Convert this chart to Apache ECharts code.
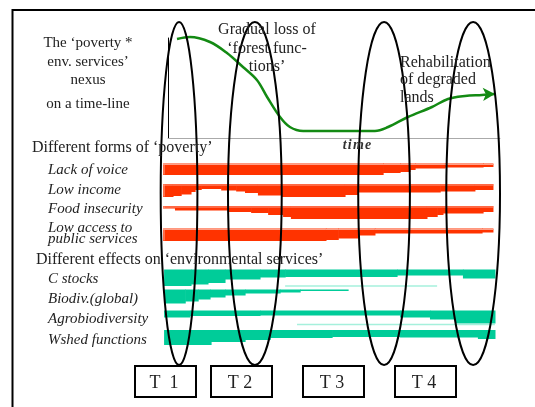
<!DOCTYPE html>
<html><head><meta charset="utf-8">
<script src="https://cdn.jsdelivr.net/npm/echarts@6/dist/echarts.min.js"></script>
<style>html,body{margin:0;padding:0;background:#fff}#c{width:535px;height:407px}</style>
</head><body><div id="c"></div>
<script>
// ================= DATA =================
// time-line curve ("forest functions" level over time, time 0..100)
const curveTimes  = [5.0, 8.8, 14.7, 19.7, 24.4, 28.5, 31.5, 35.3, 38.2, 42.1, 63.2, 67.1, 72.9, 80.0, 84.7, 89.7, 94.7, 98.5];
const curveValues = [99, 101, 96, 85, 71, 58, 41, 21, 11, 7, 7, 11, 21, 31, 39, 42, 43, 44];

// poverty bands: breakpoints (time) and thickness per segment
const voiceTimes  = [0.9, 65.6, 70.6, 73.5, 75.0, 83.8, 95.0, 97.9];
const voiceThick  = [11.5, 9.5, 8.5, 6.5, 5, 4, 3.5];
const incomeTimes = [0.9, 3.8, 6.2, 9.1, 10.3, 12.1, 18.0, 22.4, 25.0, 28.8, 35.6, 54.4, 58.2, 82.4, 92.6, 97.9];
const incomeThick = [13, 12, 10.5, 8, 6, 5, 6.5, 7.5, 9, 11.5, 13, 11, 8.5, 7.5, 6];
const foodTimes   = [0.9, 4.4, 20.0, 26.8, 31.8, 36.2, 38.5, 78.5, 81.5, 83.2, 95.0, 97.9];
const foodThick   = [2.5, 4.5, 6, 7, 9, 11, 13, 11, 9, 7.5, 6];
const accessTimes = [0.9, 48.8, 52.4, 58.2, 63.2, 94.7, 97.9];
const accessThick = [12.5, 11.5, 10, 7, 5, 4];

// environmental service bands
const cstockTimes = [1.2, 9.1, 14.1, 19.1, 29.4, 36.8, 69.7, 89.1, 98.5];
const cstockThick = [16.5, 15, 13.5, 10, 8, 7.5, 6, 9];
const cstockTrace = [36.8, 81.5];
const biodivTimes = [1.2, 7.4, 11.2, 14.7, 19.1, 25.0, 35.3, 41.2, 55.3];
const biodivThick = [14, 12, 10, 8, 6, 4, 3, 1.5];
const agroTimes   = [1.2, 8.8, 29.4, 70.6, 79.4, 86.8, 98.5];
const agroThick   = [7, 5.5, 5, 7, 9, 13];
const agroTrace   = [40.3, 98.5];
const wshedTimes  = [1.2, 15.0, 25.0, 32.4, 50.6, 70.6, 93.5, 98.5];
const wshedThick  = [15, 12, 10, 8, 7, 7.5, 9];

// time windows T1..T4
const periodStart = [0.2, 20.0, 58.3, 84.2];
const periodEnd   = [11.0, 35.8, 73.5, 100.0];

// texts
const introLines = ['The \u2018poverty *', 'env. services\u2019', 'nexus', 'on a time-line'];
const lossLines  = ['Gradual loss of', '\u2018forest func-', 'tions\u2019'];
const rehabLines = ['Rehabilitation', 'of degraded', 'lands'];
const povertyTitle = 'Different forms of \u2018poverty\u2019';
const povertyNames = ['Lack of voice', 'Low income', 'Food insecurity', 'Low access to', 'public services'];
const envTitle = 'Different effects on \u2018environmental services\u2019';
const envNames = ['C stocks', 'Biodiv.(global)', 'Agrobiodiversity', 'Wshed functions'];
const periodLabels = ['T  1', 'T 2', 'T 3', 'T 4'];
const timeLabel = 't\u200Ai\u200Am\u200Ae';

// ================= LAYOUT =================
const RED = '#ff3300', RED_LIGHT = '#ff9f88';
const TEAL = '#00cc99', TEAL_LIGHT = '#a6f0dc';
const SERIF = '"Liberation Serif","Times New Roman",serif';
const povertyRowTop = [13.5, 34, 56, 78.5];
const envRowTop = [119.5, 139.5, 160.5, 180];
const envTraceOffset = [16.5, null, 14, null];
const ELL_TOP = -128, ELL_BOTTOM = 215;

function steps(times, thick) {
  return thick.map((h, i) => [times[i], times[i + 1], h]);
}

function bandSeries(times, thick, rowTop, color, light, highlight) {
  return {
    type: 'custom', xAxisIndex: 1, yAxisIndex: 1, clip: false, silent: true,
    data: steps(times, thick),
    renderItem: (params, api) => {
      const p0 = api.coord([api.value(0), rowTop]);
      const p1 = api.coord([api.value(1), rowTop + api.value(2)]);
      const children = [{
        type: 'rect',
        shape: { x: p0[0], y: p0[1], width: p1[0] - p0[0] + 0.6, height: p1[1] - p0[1] },
        style: { fill: color }
      }];
      if (highlight) {
        children.push({
          type: 'rect',
          shape: { x: p0[0], y: p0[1] + 0.5, width: p1[0] - p0[0] + 0.6, height: 1 },
          style: { fill: light }
        });
        if (params.dataIndex === 0) {
          children.push({
            type: 'rect',
            shape: { x: p0[0] + 0.5, y: p0[1] + 0.5, width: 1, height: p1[1] - p0[1] - 1 },
            style: { fill: light }
          });
        }
      }
      return { type: 'group', children };
    }
  };
}

function traceSeries(span, y) {
  return {
    type: 'line', xAxisIndex: 1, yAxisIndex: 1, silent: true, symbol: 'none',
    data: [[span[0], y], [span[1], y]],
    lineStyle: { color: TEAL_LIGHT, width: 1.5 }
  };
}

const series = [];
const povertyData = [[voiceTimes, voiceThick], [incomeTimes, incomeThick], [foodTimes, foodThick], [accessTimes, accessThick]];
povertyData.forEach((d, i) => series.push(bandSeries(d[0], d[1], povertyRowTop[i], RED, RED_LIGHT, true)));
const envData = [[cstockTimes, cstockThick], [biodivTimes, biodivThick], [agroTimes, agroThick], [wshedTimes, wshedThick]];
envData.forEach((d, i) => series.push(bandSeries(d[0], d[1], envRowTop[i], TEAL, TEAL_LIGHT, false)));
series.push(traceSeries(cstockTrace, envRowTop[0] + envTraceOffset[0]));
series.push(traceSeries(agroTrace, envRowTop[2] + envTraceOffset[2]));

// time-line curve
const curveData = curveTimes.map((t, i) => [t, curveValues[i]]);
const last = curveData.length - 1;
curveData[last] = { value: curveData[last], symbol: 'arrow', symbolSize: [10, 12], symbolRotate: -88 };
series.push({
  type: 'line', xAxisIndex: 0, yAxisIndex: 0, smooth: 0.35, clip: false, silent: true,
  symbol: 'none', showSymbol: true,
  data: curveData,
  lineStyle: { color: '#138a13', width: 2.5 },
  itemStyle: { color: '#138a13' }
});

// time windows (ellipses)
series.push({
  type: 'custom', xAxisIndex: 1, yAxisIndex: 1, clip: false, silent: true, z: 5,
  data: periodStart.map((s, i) => [s, periodEnd[i]]),
  renderItem: (params, api) => {
    const s = api.value(0), e = api.value(1);
    const c = api.coord([(s + e) / 2, (ELL_TOP + ELL_BOTTOM) / 2]);
    const rx = api.size([(e - s) / 2, 0])[0];
    const ry = api.size([0, (ELL_BOTTOM - ELL_TOP) / 2])[1];
    return { type: 'ellipse', shape: { cx: c[0], cy: c[1], rx: rx, ry: ry },
             style: { fill: null, stroke: '#000', lineWidth: 2 } };
  }
});

// ================= TEXT / FRAME GRAPHICS =================
const g = [];
function txt(text, x, y, size, opts) {
  opts = opts || {};
  g.push({ type: 'text', x: x, y: y, z: 10, silent: true,
    style: { text: text, fill: opts.fill || '#222', textAlign: opts.align || 'left', verticalAlign: 'middle',
             font: (opts.style || 'normal') + ' ' + (opts.weight || 'normal') + ' ' + size + 'px ' + SERIF } });
}
g.push({ type: 'rect', shape: { x: 12.5, y: 10, width: 700, height: 700 }, style: { fill: null, stroke: '#000', lineWidth: 2 }, z: 1, silent: true });
const introY = [43, 62, 80, 104];
introLines.forEach((l, i) => txt(l, 88, introY[i], 15, { align: 'center' }));
const lossY = [30, 49, 67];
lossLines.forEach((l, i) => txt(l, 267, lossY[i], 16, { align: 'center' }));
const rehabY = [63, 80, 98];
rehabLines.forEach((l, i) => txt(l, 400, rehabY[i], 16));
txt(timeLabel, 357, 145, 14, { align: 'center', style: 'italic', weight: 'bold', fill: '#333' });
txt(povertyTitle, 32, 148, 16);
const povY = [170, 190, 209, 228, 239];
povertyNames.forEach((l, i) => txt(l, 48, povY[i], 15, { style: 'italic' }));
txt(envTitle, 36, 260, 16);
const envY = [279, 299, 319, 340];
envNames.forEach((l, i) => txt(l, 48, envY[i], 15, { style: 'italic' }));
const boxX = [135, 211, 303, 395];
periodLabels.forEach((l, i) => {
  g.push({ type: 'rect', shape: { x: boxX[i], y: 366, width: 61, height: 31 }, style: { fill: '#fff', stroke: '#000', lineWidth: 2 }, z: 9, silent: true });
  txt(l, boxX[i] + 29, 383, 18, { align: 'center' });
});

const chart = echarts.init(document.getElementById('c'), null, { renderer: 'canvas' });
chart.setOption({
  animation: false,
  backgroundColor: '#fff',
  grid: [
    { left: 168, right: 35, top: 38, height: 100 },
    { left: 160, right: 35, top: 150, height: 200 }
  ],
  xAxis: [
    { gridIndex: 0, type: 'value', min: 8 / 3.4, max: 100,
      axisLine: { show: true, lineStyle: { color: '#aaa', width: 1 } },
      axisTick: { show: false }, axisLabel: { show: false }, splitLine: { show: false } },
    { gridIndex: 1, type: 'value', min: 0, max: 100, show: false }
  ],
  yAxis: [
    { gridIndex: 0, type: 'value', min: 0, max: 100,
      axisLine: { show: true, lineStyle: { color: '#000', width: 1 } },
      axisTick: { show: false }, axisLabel: { show: false }, splitLine: { show: false } },
    { gridIndex: 1, type: 'value', min: 0, max: 200, inverse: true, show: false }
  ],
  series: series,
  graphic: { elements: g }
});
</script>
</body></html>
